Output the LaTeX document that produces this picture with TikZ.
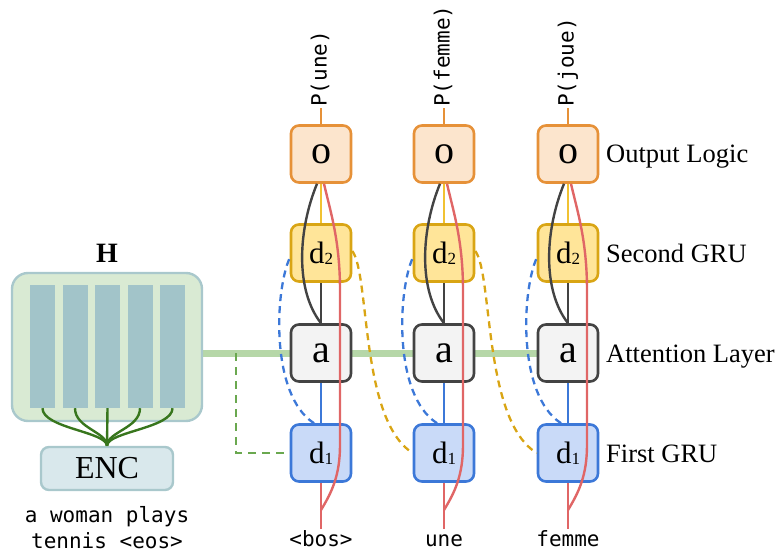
\documentclass[tikz,border=0pt]{standalone}
\usepackage{fontspec}
\setmainfont{Liberation Serif}
\newfontfamily\monofont{DejaVu Sans Mono}
\usetikzlibrary{calc,backgrounds}

\definecolor{oFill}{HTML}{FCE5CD}
\definecolor{oLine}{HTML}{E69138}
\definecolor{sFill}{HTML}{FFE599}
\definecolor{sLine}{HTML}{D9A514}
\definecolor{aFill}{HTML}{F3F3F3}
\definecolor{aLine}{HTML}{434343}
\definecolor{fFill}{HTML}{C9DAF8}
\definecolor{fLine}{HTML}{3C78D8}
\definecolor{yelLine}{HTML}{F1C232}
\definecolor{redLine}{HTML}{E06666}
\definecolor{hFill}{HTML}{D9EAD3}
\definecolor{hLine}{HTML}{A9C8CC}
\definecolor{barFill}{HTML}{A2C4C9}
\definecolor{encFill}{HTML}{D9E8EC}
\definecolor{ctxLine}{HTML}{B6D7A8}
\definecolor{ctxDash}{HTML}{6AA84F}
\definecolor{encLink}{HTML}{38761D}

\newcommand\subdig[1]{{\fontsize{17}{17}\selectfont\raisebox{-1.5pt}{#1}}}

\begin{document}
\begin{tikzpicture}[x=1pt,y=-1pt,
  box/.style={draw, rounded corners=8pt, line width=2.6pt,
    minimum width=60pt, minimum height=57pt, inner sep=0pt},
  obox/.style={box, draw=oLine, fill=oFill, font=\fontsize{40}{44}\selectfont},
  sbox/.style={box, draw=sLine, fill=sFill, font=\fontsize{31}{34}\selectfont},
  abox/.style={box, draw=aLine, fill=aFill, font=\fontsize{40}{44}\selectfont},
  fbox/.style={box, draw=fLine, fill=fFill, font=\fontsize{31}{34}\selectfont},
  rowlabel/.style={anchor=base west, inner sep=0pt, font=\fontsize{26.5}{30}\selectfont},
  word/.style={inner sep=2pt, font=\monofont\fontsize{21}{26}\selectfont,
    text height=15pt, text depth=4pt},
  link/.style={line width=2.4pt},
  loopback/.style={line width=2.3pt, dash pattern=on 7pt off 5pt},
]
\useasboundingbox (0,0) rectangle (780,559);

% ---------- encoder ----------
\node[draw=hLine, fill=hFill, line width=2.4pt, rounded corners=16pt,
  minimum width=190pt, minimum height=148pt] (H) at (107,347) {};
\node[font=\bfseries\fontsize{28}{30}\selectfont] (Hlab) at (107,253) {H};
\foreach \k/\x in {1/42.5,2/75,3/107.5,4/140,5/172.5}
  \node[fill=barFill, minimum width=25pt, minimum height=123pt, inner sep=0pt]
    (bar\k) at (\x,346.5) {};
\node[draw=hLine, fill=encFill, line width=2.4pt, rounded corners=8pt,
  minimum width=132pt, minimum height=43pt, inner sep=0pt,
  font=\fontsize{32}{34}\selectfont] (enc) at (107,468.5) {ENC};
\foreach \k in {1,2,4,5}
  \draw[encLink, line width=2.4pt] (bar\k.south)
    .. controls ($(bar\k.south)+(0,20)$) and ($(enc.north)+(0,-14)$) .. (enc.north);
\draw[encLink, line width=2.4pt] (bar3.south) -- (enc.north);
\node[inner sep=2pt, font=\monofont\fontsize{21}{26}\selectfont, align=center]
  (src) at (107,528) {a woman plays\\tennis <eos>};

% ---------- decoder columns ----------
\foreach \i/\c/\w/\p in {1/321/{<bos>}/une, 2/444/une/femme, 3/568/femme/joue} {
  \node[obox] (o\i) at (\c,154) {o};
  \node[sbox] (s\i) at (\c,253) {d\subdig{2}};
  \node[abox] (a\i) at (\c,353) {a};
  \node[fbox] (f\i) at (\c,453) {d\subdig{1}};
  \node[word] (in\i) at (\c,541) {\w};
  \node[word, rotate=90, anchor=west, inner sep=1pt] (p\i) at (\c,108) {P(\p)};
  \coordinate (fork\i) at (\c,510);

  \draw[link, oLine] (o\i.north) -- (p\i.west);
  \draw[link, yelLine] (s\i.north) -- (o\i.south);
  \draw[link, aLine] (a\i.north) -- (s\i.south);
  \draw[link, fLine] (f\i.north) -- (a\i.south);
  \draw[link, redLine] (f\i.south) -- (in\i.north);
  % attention output bypasses the second GRU
  \draw[link, aLine] ($(o\i.south)+(-4,0)$)
    .. controls (\c-23,230) and (\c-26,290) .. (a\i.north);
  % embedding of the input word goes straight to the output logic
  \draw[link, redLine] (fork\i)
    .. controls (\c+11,492) and (\c+19,475) .. (\c+19,445)
    -- (\c+19,290)
    .. controls (\c+19,240) and (\c+9,210) .. ($(o\i.south)+(3,0)$);
  % first GRU state feeds the second GRU
  \draw[loopback, fLine] ($(f\i.north)+(-7,0)$)
    .. controls (\c-51,395) and (\c-46,290) .. ($(s\i.west)+(0,5)$);
}

% second GRU state carried to the next step's first GRU
\foreach \i/\j/\c in {1/2/321, 2/3/444}
  \draw[loopback, sLine] ($(s\i.east)+(0,-2)$)
    .. controls (\c+49,275) and (\c+39,420) .. (f\j.west);

% ---------- context from the encoder ----------
\coordinate (tap) at (236,353);
\begin{scope}[on background layer]
  \draw[ctxLine, line width=7pt] (H.east |- a1.center) -- (a3.west);
\end{scope}
\draw[ctxDash, line width=2.3pt, dash pattern=on 8pt off 6pt] (tap) |- (f1.west);

% ---------- row labels ----------
\node[rowlabel] (l1) at (606,163) {Output Logic};
\node[rowlabel] (l2) at (606,262) {Second GRU};
\node[rowlabel] (l3) at (606,362) {Attention Layer};
\node[rowlabel] (l4) at (606,462) {First GRU};
\end{tikzpicture}
\end{document}
